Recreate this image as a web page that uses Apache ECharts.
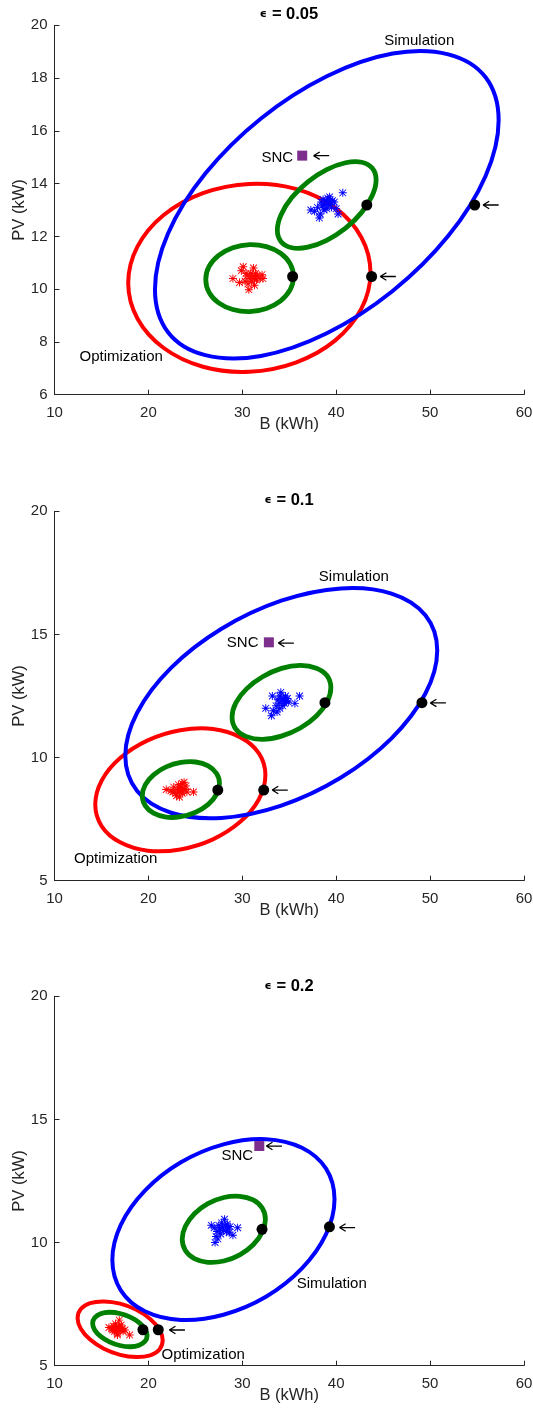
<!DOCTYPE html>
<html><head><meta charset="utf-8">
<script src="https://cdn.jsdelivr.net/npm/echarts@6.0.0/dist/echarts.min.js"></script>
<style>html,body{margin:0;padding:0;background:#fff}#c{width:533px;height:1418px}</style>
</head><body><div id="c"></div>
<script>
// ---------- panel titles ----------
const titles = ['0.05', '0.1', '0.2'];
const yRanges = [[6, 20, 2], [5, 20, 5], [5, 20, 5]];

// ---------- panel 1 (eps = 0.05) ----------
const p1Sim = [[57.3,16.4],[55.91,18.03],[51.94,18.9],[46.01,18.93],[39.0,18.07],[31.99,16.47],[26.06,14.38],[22.09,12.11],[20.7,10.0],[22.09,8.37],[26.06,7.5],[31.99,7.47],[39.0,8.33],[46.01,9.93],[51.94,12.02],[55.91,14.29]];
const p1Opt = [[43.65,10.63],[42.67,11.97],[39.87,13.09],[35.69,13.8],[30.75,13.99],[25.81,13.64],[21.63,12.81],[18.83,11.61],[17.85,10.23],[18.83,8.89],[21.63,7.77],[25.81,7.06],[30.75,6.87],[35.69,7.22],[39.87,8.05],[42.67,9.25]];
const p1GreenOpt = [[35.45,10.47],[35.1,10.96],[34.08,11.36],[32.57,11.61],[30.78,11.69],[28.99,11.57],[27.48,11.28],[26.46,10.86],[26.11,10.37],[26.46,9.88],[27.48,9.48],[28.99,9.23],[30.78,9.15],[32.57,9.27],[34.08,9.56],[35.1,9.98]];
const p1GreenSim = [[44.25,14.14],[43.85,14.58],[42.71,14.81],[41.0,14.79],[38.99,14.53],[36.98,14.07],[35.27,13.47],[34.13,12.82],[33.73,12.24],[34.13,11.8],[35.27,11.57],[36.98,11.59],[38.99,11.85],[41.0,12.31],[42.71,12.91],[43.85,13.56]];
const p1OptPts = [[29.0,10.4],[29.9,10.7],[30.1,10.85],[30.3,10.3],[30.5,10.5],[30.6,10.2],[30.7,9.98],[30.8,10.4],[30.9,10.6],[31.0,10.3],[31.1,10.5],[31.2,10.8],[31.3,10.4],[31.4,10.6],[31.5,10.35],[31.6,10.5],[31.3,10.15],[30.4,10.6],[32.1,10.55],[32.2,10.4],[29.7,10.25],[31.9,10.4]];
const p1SimPts = [[37.3,13.0],[37.7,12.95],[38.0,13.1],[38.2,12.7],[38.3,12.85],[38.4,13.3],[38.6,13.4],[38.7,13.0],[38.8,13.2],[39.0,13.35],[39.1,13.45],[39.2,13.2],[39.3,13.5],[39.4,13.3],[39.5,13.1],[39.6,13.35],[39.0,13.05],[38.5,13.15],[40.0,13.05],[40.2,12.85],[40.7,13.65],[39.8,13.3]];
const p1Dots = [[43.26,13.19],[54.75,13.19],[35.36,10.48],[43.77,10.48]];
const p1Snc = [[36.38,15.06]];
const p1Arrows = [[38.4,15.06],[56.45,13.19],[45.5,10.48]];
const p1Texts = [['Simulation',48.84,19.41],['Optimization',17.1,7.43],['SNC',33.73,14.99]];

// ---------- panel 2 (eps = 0.1) ----------
const p2Sim = [[50.76,14.35],[49.5,15.78],[45.89,16.66],[40.51,16.87],[34.15,16.37],[27.79,15.23],[22.41,13.64],[18.8,11.82],[17.54,10.07],[18.8,8.64],[22.41,7.76],[27.79,7.55],[34.15,8.05],[40.51,9.19],[45.89,10.78],[49.5,12.6]];
const p2Opt = [[32.46,9.29],[31.77,10.17],[29.81,10.82],[26.87,11.16],[23.4,11.11],[19.93,10.7],[16.99,9.98],[15.03,9.07],[14.34,8.09],[15.03,7.21],[16.99,6.56],[19.93,6.22],[23.4,6.27],[26.87,6.68],[29.81,7.4],[31.77,8.31]];
const p2GreenOpt = [[27.57,8.95],[27.26,9.35],[26.37,9.66],[25.03,9.82],[23.46,9.8],[21.89,9.62],[20.55,9.3],[19.66,8.89],[19.35,8.45],[19.66,8.05],[20.55,7.74],[21.89,7.58],[23.46,7.6],[25.03,7.78],[26.37,8.1],[27.26,8.51]];
const p2GreenSim = [[39.43,12.84],[39.03,13.32],[37.89,13.63],[36.18,13.74],[34.17,13.62],[32.16,13.28],[30.45,12.79],[29.31,12.22],[28.91,11.64],[29.31,11.16],[30.45,10.85],[32.16,10.74],[34.17,10.87],[36.18,11.2],[37.89,11.69],[39.03,12.26]];
const p2OptPts = [[21.9,8.7],[22.4,8.65],[22.7,8.8],[22.9,8.55],[23.0,8.45],[23.1,8.7],[23.2,8.9],[23.3,8.6],[23.4,8.8],[23.5,8.65],[23.6,8.95],[23.7,8.75],[23.8,9.0],[23.9,8.7],[24.0,8.85],[23.3,8.4],[24.1,8.6],[24.8,8.6],[23.6,8.55],[22.6,8.6]];
const p2SimPts = [[32.5,12.0],[33.1,11.7],[33.2,12.5],[33.3,11.9],[33.6,12.1],[33.8,12.35],[33.9,12.2],[34.0,12.5],[34.1,12.65],[34.2,12.3],[34.3,12.1],[34.4,12.4],[34.5,12.2],[34.6,12.5],[34.7,12.3],[34.8,12.4],[34.9,12.25],[35.6,12.2],[36.1,12.5],[33.7,11.85],[34.0,12.0]];
const p2Dots = [[38.8,12.23],[49.13,12.23],[27.39,8.68],[32.28,8.68]];
const p2Snc = [[32.83,14.68]];
const p2Arrows = [[34.64,14.65],[50.83,12.22],[33.99,8.68]];
const p2Texts = [['Simulation',41.88,17.35],['Optimization',16.52,5.88],['SNC',30.04,14.65]];

// ---------- panel 3 (eps = 0.2) ----------
const p3Sim = [[39.82,11.76],[38.92,13.0],[36.35,13.85],[32.52,14.2],[27.99,13.99],[23.46,13.26],[19.63,12.11],[17.06,10.72],[16.16,9.3],[17.06,8.06],[19.63,7.21],[23.46,6.86],[27.99,7.07],[32.52,7.8],[36.35,8.95],[38.92,10.34]];
const p3Opt = [[21.52,6.03],[21.18,6.46],[20.19,6.9],[18.72,7.27],[16.99,7.52],[15.26,7.61],[13.79,7.54],[12.8,7.3],[12.46,6.93],[12.8,6.5],[13.79,6.06],[15.26,5.69],[16.99,5.44],[18.72,5.35],[20.19,5.42],[21.18,5.66]];
const p3GreenOpt = [[19.86,6.22],[19.64,6.49],[19.01,6.75],[18.07,6.97],[16.96,7.12],[15.85,7.17],[14.91,7.11],[14.28,6.95],[14.06,6.72],[14.28,6.45],[14.91,6.19],[15.85,5.97],[16.96,5.82],[18.07,5.77],[19.01,5.83],[19.64,5.99]];
const p3GreenSim = [[32.46,10.94],[32.12,11.4],[31.16,11.73],[29.73,11.88],[28.03,11.83],[26.33,11.58],[24.9,11.17],[23.94,10.66],[23.6,10.14],[23.94,9.68],[24.9,9.35],[26.33,9.2],[28.03,9.25],[29.73,9.5],[31.16,9.91],[32.12,10.42]];
const p3OptPts = [[15.8,6.55],[16.1,6.5],[16.3,6.6],[16.4,6.4],[16.5,6.7],[16.6,6.5],[16.7,6.3],[16.8,6.6],[16.9,6.85],[17.0,6.45],[17.1,6.65],[17.2,6.5],[17.3,6.4],[16.7,6.25],[17.5,6.45],[18.0,6.25],[16.9,6.55],[16.2,6.45]];
const p3SimPts = [[26.7,10.7],[27.0,10.6],[27.1,10.0],[27.2,10.25],[27.3,10.45],[27.4,10.15],[27.5,10.7],[27.6,10.55],[27.7,10.35],[27.8,10.8],[27.9,10.6],[28.0,10.5],[28.1,10.95],[28.2,10.7],[28.3,10.45],[28.4,10.75],[28.5,10.55],[28.7,10.65],[29.0,10.3],[29.5,10.6],[28.6,10.4]];
const p3Dots = [[32.1,10.54],[39.28,10.64],[19.42,6.46],[21.05,6.46]];
const p3Snc = [[31.81,13.92]];
const p3Arrows = [[33.37,13.92],[41.16,10.61],[23.04,6.45]];
const p3Texts = [['Simulation',39.53,8.31],['Optimization',25.83,5.45],['SNC',29.46,13.54]];

// ---------- build ----------
const BLUE = '#0000FF', RED = '#FF0000', GREEN = '#008000', PURPLE = '#7E2F8E', AX = '#262626';
const FONT = '"Liberation Sans", Arial, Helvetica, sans-serif';
const STAR = 'path://M4.4,0H5.6V10H4.4Z M0,4.4H10V5.6H0Z M1.2,0.4L9.6,8.8L8.8,9.6L0.4,1.2Z M8.8,0.4L9.6,1.2L1.2,9.6L0.4,8.8Z';
const ARROW = 'path://M1,4.3H16V5.7H1Z M-0.05,4.45L6.15,0.45L6.85,1.55L0.65,5.55Z M0.65,4.45L6.85,8.45L6.15,9.55L-0.05,5.55Z';

const panels = [
  {sim:p1Sim,opt:p1Opt,gOpt:p1GreenOpt,gSim:p1GreenSim,optPts:p1OptPts,simPts:p1SimPts,dots:p1Dots,snc:p1Snc,arrows:p1Arrows,texts:p1Texts},
  {sim:p2Sim,opt:p2Opt,gOpt:p2GreenOpt,gSim:p2GreenSim,optPts:p2OptPts,simPts:p2SimPts,dots:p2Dots,snc:p2Snc,arrows:p2Arrows,texts:p2Texts},
  {sim:p3Sim,opt:p3Opt,gOpt:p3GreenOpt,gSim:p3GreenSim,optPts:p3OptPts,simPts:p3SimPts,dots:p3Dots,snc:p3Snc,arrows:p3Arrows,texts:p3Texts}
];
const gridTops = [25.3, 511.3, 996.3];
const titleTops = [5, 491, 977];

function ellipse(pts, color, gi, lw) {
  return {
    type: 'custom', xAxisIndex: gi, yAxisIndex: gi, data: pts, silent: true,
    encode: {x: 0, y: 1},
    renderItem: function (params, api) {
      if (params.dataIndex !== 0) return null;
      const P = pts.map(function (p) { return api.coord(p); });
      return {type: 'polygon', shape: {points: P, smooth: 0.35},
              style: {fill: 'none', stroke: color, lineWidth: lw}};
    }
  };
}
function scatter(gi, data, symbol, size, color, extra) {
  return Object.assign({type: 'scatter', xAxisIndex: gi, yAxisIndex: gi, data: data, symbol: symbol,
    symbolSize: size, itemStyle: {color: color, opacity: 1}, silent: true}, extra || {});
}

const grid = [], xAxis = [], yAxis = [], series = [], title = [];
panels.forEach(function (pn, gi) {
  grid.push({left: 54.5, width: 469.5, top: gridTops[gi], height: 369.4, containLabel: false, outerBoundsMode: 'none'});
  const axCommon = {
    axisLine: {show: true, onZero: false, lineStyle: {color: AX, width: 1}},
    axisTick: {show: true, inside: true, length: 5, lineStyle: {color: AX}},
    splitLine: {show: false},
    nameMoveOverlap: false,
    nameTextStyle: {color: AX, fontSize: 16.5, fontFamily: FONT}
  };
  xAxis.push(Object.assign({type: 'value', gridIndex: gi, min: 10, max: 60, interval: 10,
    name: 'B (kWh)', nameLocation: 'middle', nameGap: 21,
    axisLabel: {color: AX, fontSize: 15, fontFamily: FONT, margin: 11}}, axCommon));
  yAxis.push(Object.assign({type: 'value', gridIndex: gi, min: yRanges[gi][0], max: yRanges[gi][1], interval: yRanges[gi][2],
    name: 'PV (kW)', nameLocation: 'middle', nameGap: 27,
    axisLabel: {color: AX, fontSize: 15, fontFamily: FONT, margin: 7}}, axCommon));
  title.push({
    text: '{e|\u03F5} {b|= ' + titles[gi] + '}', left: 289, top: titleTops[gi], textAlign: 'center', padding: 0,
    textStyle: {rich: {
      e: {fontFamily: '"DejaVu Sans"', fontSize: 11, color: '#000'},
      b: {fontFamily: FONT, fontSize: 16.5, fontWeight: 'bold', color: '#000'}
    }}
  });
  series.push(ellipse(pn.opt, RED, gi, 4));
  series.push(ellipse(pn.sim, BLUE, gi, 4));
  series.push(ellipse(pn.gOpt, GREEN, gi, 4.8));
  series.push(ellipse(pn.gSim, GREEN, gi, 4.8));
  series.push(scatter(gi, pn.optPts, STAR, 8, RED));
  series.push(scatter(gi, pn.simPts, STAR, 8, BLUE));
  series.push(scatter(gi, pn.dots, 'circle', 11, '#000'));
  series.push(scatter(gi, pn.snc, 'rect', 10, PURPLE));
  series.push(scatter(gi, pn.arrows, ARROW, [16, 8.5], '#000'));
  series.push(scatter(gi, pn.texts.map(function (t) { return {name: t[0], value: [t[1], t[2]]}; }),
    'circle', 1, 'rgba(0,0,0,0)',
    {label: {show: true, position: 'inside', formatter: '{b}', color: '#000', fontSize: 15, fontFamily: FONT}}));
});

const chart = echarts.init(document.getElementById('c'), null, {renderer: 'canvas'});
chart.setOption({backgroundColor: '#fff', animation: false, title: title, grid: grid, xAxis: xAxis, yAxis: yAxis, series: series});
</script>
</body></html>
